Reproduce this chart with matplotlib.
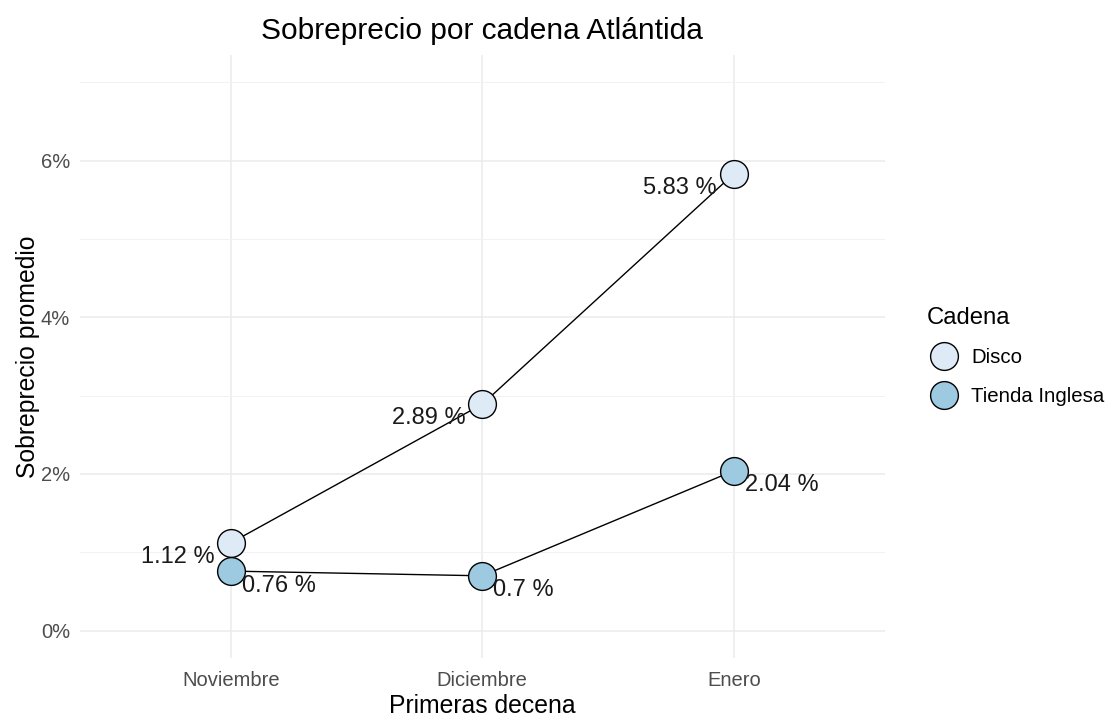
import numpy as np
import matplotlib.pyplot as plt
from matplotlib.lines import Line2D
from matplotlib.ticker import MultipleLocator, FuncFormatter

meses = ["Noviembre", "Diciembre", "Enero"]
disco = [1.12, 2.89, 5.83]
tienda = [0.76, 0.70, 2.04]
disco_lbl = ["1.12 %", "2.89 %", "5.83 %"]
tienda_lbl = ["0.76 %", "0.7 %", "2.04 %"]

col_disco = "#deebf7"
col_tienda = "#9ecae1"

plt.rcParams['font.family'] = ['Liberation Sans', 'DejaVu Sans']

fig = plt.figure(figsize=(11.1, 7.2), dpi=100)
ax = fig.add_axes([0.072, 0.086, 0.725, 0.838])

x = np.arange(1, len(meses) + 1)

ax.plot(x, disco, color="black", lw=1, zorder=3)
ax.plot(x, tienda, color="black", lw=1, zorder=3)
ax.scatter(x, disco, s=400, c=col_disco, edgecolors="black", linewidths=1, zorder=4)
ax.scatter(x, tienda, s=400, c=col_tienda, edgecolors="black", linewidths=1, zorder=4)

for xi, yi, t in zip(x, disco, disco_lbl):
    ax.annotate(t, (xi, yi), xytext=(-12, -10), textcoords="offset points",
                ha="right", va="center", fontsize=17, color="#1a1a1a", zorder=5)
for xi, yi, t in zip(x, tienda, tienda_lbl):
    ax.annotate(t, (xi, yi), xytext=(8, -10.5), textcoords="offset points",
                ha="left", va="center", fontsize=17, color="#1a1a1a", zorder=5)

ax.set_xlim(0.4, 3.6)
ax.set_ylim(-0.35, 7.35)
ax.set_xticks(x)
ax.set_xticklabels(meses)
ax.yaxis.set_major_locator(MultipleLocator(2))
ax.yaxis.set_minor_locator(MultipleLocator(1))
ax.yaxis.set_major_formatter(FuncFormatter(lambda v, p: f"{v:.0f}%"))

ax.grid(True, which="major", color="#ebebeb", lw=1.1)
ax.grid(True, which="minor", axis="y", color="#f2f2f2", lw=0.7)
ax.set_axisbelow(True)
for s in ax.spines.values():
    s.set_visible(False)
ax.tick_params(axis="both", which="both", length=0, labelsize=14.5, labelcolor="#4d4d4d")
ax.tick_params(axis="x", pad=9)
ax.tick_params(axis="y", pad=7)

ax.set_xlabel("Primeras decena", fontsize=17.8, labelpad=3)
ax.set_ylabel("Sobreprecio promedio", fontsize=17.8, labelpad=1)
ax.set_title("Sobreprecio por cadena Atlántida", fontsize=21.5, pad=11)

handles = [
    Line2D([], [], marker="o", ls="", markersize=20, markerfacecolor=col_disco,
           markeredgecolor="black", markeredgewidth=1, label="Disco"),
    Line2D([], [], marker="o", ls="", markersize=20, markerfacecolor=col_tienda,
           markeredgecolor="black", markeredgewidth=1, label="Tienda Inglesa"),
]
leg = fig.legend(handles=handles, title="Cadena", loc="upper left",
                 bbox_to_anchor=(0.828, 0.585), frameon=False, fontsize=14.7,
                 title_fontsize=17.2, handletextpad=0.55, labelspacing=0.95,
                 borderaxespad=0, handlelength=1.6)
leg._legend_box.align = "left"

fig.savefig("out.png", dpi=100)
